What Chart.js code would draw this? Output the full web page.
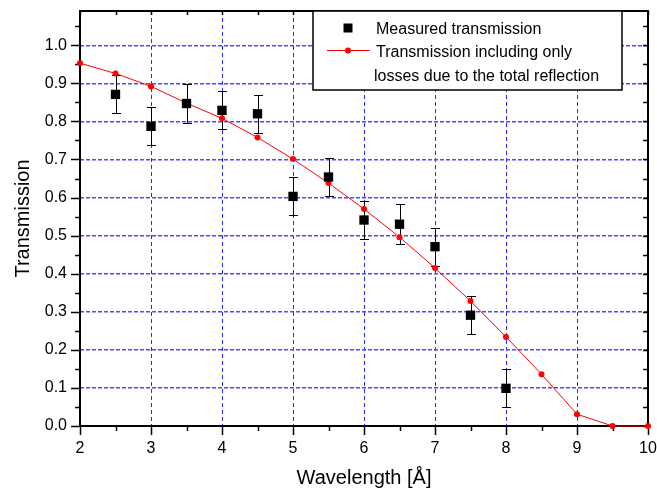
<!DOCTYPE html>
<html>
<head>
<meta charset="utf-8">
<script src="https://cdn.jsdelivr.net/npm/chart.js@4/dist/chart.umd.min.js"></script>
<style>
    html, body { margin: 0; padding: 0; background: #fff; }
</style>
</head>
<body>
<canvas id="transmissionCanvas" width="657" height="493"></canvas>
<script>
// calculated curve (total reflection losses only)
var wavelengths = [2, 2.5, 3, 3.5, 4, 4.5, 5, 5.5, 6, 6.5, 7, 7.5, 8, 8.5, 9, 9.5, 10];
var calcTransmission = [0.953, 0.926, 0.892, 0.848, 0.808, 0.758, 0.701, 0.638, 0.570, 0.496, 0.415, 0.328, 0.234, 0.136, 0.031, 0.0, 0.0];

// measured points with error bars
var measuredWavelengths = [2.5, 3, 3.5, 4, 4.5, 5, 5.5, 6, 6.5, 7, 7.5, 8];
var measuredTransmission = [0.871, 0.787, 0.847, 0.829, 0.820, 0.603, 0.654, 0.541, 0.530, 0.471, 0.291, 0.099];
var measuredError = [0.05, 0.05, 0.05, 0.05, 0.05, 0.05, 0.05, 0.05, 0.053, 0.05, 0.05, 0.05];

var xMajorTicks = [2, 3, 4, 5, 6, 7, 8, 9, 10];
var xMinorTicks = [2.5, 3.5, 4.5, 5.5, 6.5, 7.5, 8.5, 9.5];
var yMajorTicks = [0, 0.1, 0.2, 0.3, 0.4, 0.5, 0.6, 0.7, 0.8, 0.9, 1.0];
var yMinorTicks = [0.05, 0.15, 0.25, 0.35, 0.45, 0.55, 0.65, 0.75, 0.85, 0.95, 1.05];

var legendLabels = ['Measured transmission', 'Transmission including only', 'losses due to the total reflection'];

var FONT = '"Liberation Sans", Arial, sans-serif';

// frame + ticks on all four sides, and the error bars (under the markers)
var framePlugin = {
    id: 'frame',
    beforeDatasetsDraw: function(chart) {
        const ctx = chart.ctx;
        const a = chart.chartArea;
        const xs = chart.scales.x;
        const ys = chart.scales.y;
        ctx.save();
        ctx.strokeStyle = '#000';
        ctx.lineWidth = 1.5;
        ctx.beginPath();
        xMajorTicks.forEach(v => {
            const p = Math.round(xs.getPixelForValue(v)) + 0.5;
            ctx.moveTo(p, a.bottom); ctx.lineTo(p, a.bottom + 9);
            ctx.moveTo(p, a.top); ctx.lineTo(p, a.top + 4);
        });
        xMinorTicks.forEach(v => {
            const p = Math.round(xs.getPixelForValue(v)) + 0.5;
            ctx.moveTo(p, a.bottom); ctx.lineTo(p, a.bottom + 5);
            ctx.moveTo(p, a.top); ctx.lineTo(p, a.top + 4);
        });
        yMajorTicks.forEach(v => {
            const p = Math.round(ys.getPixelForValue(v)) + 0.5;
            ctx.moveTo(a.left, p); ctx.lineTo(a.left - 9, p);
            ctx.moveTo(a.right, p); ctx.lineTo(a.right - 5, p);
        });
        yMinorTicks.forEach(v => {
            const p = Math.round(ys.getPixelForValue(v)) + 0.5;
            ctx.moveTo(a.left, p); ctx.lineTo(a.left - 5, p);
            ctx.moveTo(a.right, p); ctx.lineTo(a.right - 5, p);
        });
        ctx.stroke();
        ctx.lineWidth = 2;
        ctx.strokeRect(a.left, a.top, a.right - a.left, a.bottom - a.top);

        // error bars
        ctx.lineWidth = 1;
        ctx.beginPath();
        for (let i = 0; i < measuredWavelengths.length; i++) {
            const x = Math.round(xs.getPixelForValue(measuredWavelengths[i])) + 0.5;
            const yt = Math.round(ys.getPixelForValue(measuredTransmission[i] + measuredError[i])) + 0.5;
            const yb = Math.round(ys.getPixelForValue(measuredTransmission[i] - measuredError[i])) + 0.5;
            ctx.moveTo(x, yt); ctx.lineTo(x, yb);
            ctx.moveTo(x - 4.5, yt); ctx.lineTo(x + 4.5, yt);
            ctx.moveTo(x - 4.5, yb); ctx.lineTo(x + 4.5, yb);
        }
        ctx.stroke();
        ctx.restore();
    },
    afterDraw: function(chart) {
        const ctx = chart.ctx;
        ctx.save();
        // legend box
        ctx.fillStyle = '#fff';
        ctx.fillRect(313, 11, 309, 79);
        ctx.strokeStyle = '#000';
        ctx.lineWidth = 1.5;
        ctx.strokeRect(313, 11, 309, 79);
        // square marker
        ctx.fillStyle = '#000';
        ctx.fillRect(343.5, 23.5, 9, 9);
        // line + dot marker
        ctx.strokeStyle = '#ff0000';
        ctx.lineWidth = 1;
        ctx.beginPath();
        ctx.moveTo(327, 50.5); ctx.lineTo(370, 50.5);
        ctx.stroke();
        ctx.fillStyle = '#ff0000';
        ctx.beginPath();
        ctx.arc(348, 50.5, 3, 0, Math.PI * 2);
        ctx.fill();
        // texts
        ctx.fillStyle = '#000';
        ctx.font = '16px ' + FONT;
        ctx.textBaseline = 'alphabetic';
        ctx.textAlign = 'left';
        ctx.fillText(legendLabels[0], 376, 34);
        ctx.fillText(legendLabels[1], 376, 57);
        ctx.fillText(legendLabels[2], 374, 80.5);
        ctx.restore();
    }
};

const canvas = document.getElementById('transmissionCanvas');
const ctx = canvas.getContext('2d');

window.myChart = new Chart(ctx, {
    type: 'line',
    data: {
        datasets: [
            {
                label: legendLabels[0],
                data: measuredWavelengths.map((x, i) => ({ x: x, y: measuredTransmission[i] })),
                showLine: false,
                pointStyle: 'rect',
                pointRadius: 6.6,
                pointBackgroundColor: '#000',
                pointBorderColor: '#000',
                pointBorderWidth: 0,
                order: 0
            },
            {
                label: legendLabels[1] + ' ' + legendLabels[2],
                data: wavelengths.map((x, i) => ({ x: x, y: calcTransmission[i] })),
                borderColor: '#ff0000',
                borderWidth: 1,
                pointRadius: 3,
                pointBackgroundColor: '#ff0000',
                pointBorderWidth: 0,
                tension: 0,
                fill: false,
                clip: false,
                order: 1
            }
        ]
    },
    options: {
        responsive: false,
        animation: false,
        layout: { padding: { top: 11, right: 9, left: 0, bottom: 0 } },
        plugins: {
            legend: { display: false },
            tooltip: { enabled: false }
        },
        scales: {
            x: {
                type: 'linear',
                min: 2,
                max: 10,
                afterFit: s => { s.height = 67; s.paddingLeft = 0; s.paddingRight = 0; },
                ticks: {
                    stepSize: 1,
                    color: '#000',
                    padding: 13,
                    font: { family: FONT, size: 16 }
                },
                grid: { color: '#2a2aff', lineWidth: 1, drawTicks: false },
                border: { display: false, dash: [4, 3] },
                title: {
                    display: true,
                    text: 'Wavelength [Å]',
                    color: '#000',
                    font: { family: FONT, size: 20 },
                    padding: { top: 0, bottom: 3 }
                }
            },
            y: {
                type: 'linear',
                min: 0,
                max: 1.09,
                afterFit: s => { s.width = 80; s.paddingTop = 0; s.paddingBottom = 0; },
                afterBuildTicks: s => { s.ticks = s.ticks.filter(t => t.value <= 1.0001); },
                ticks: {
                    stepSize: 0.1,
                    color: '#000',
                    padding: 13,
                    font: { family: FONT, size: 16 },
                    callback: v => v.toFixed(1)
                },
                grid: { color: '#4a4aff', lineWidth: 1.4, drawTicks: false },
                border: { display: false, dash: [4, 2] },
                title: {
                    display: true,
                    text: 'Transmission',
                    color: '#000',
                    font: { family: FONT, size: 20 },
                    padding: { top: 11, bottom: 0 }
                }
            }
        }
    },
    plugins: [framePlugin]
});
</script>
</body>
</html>
